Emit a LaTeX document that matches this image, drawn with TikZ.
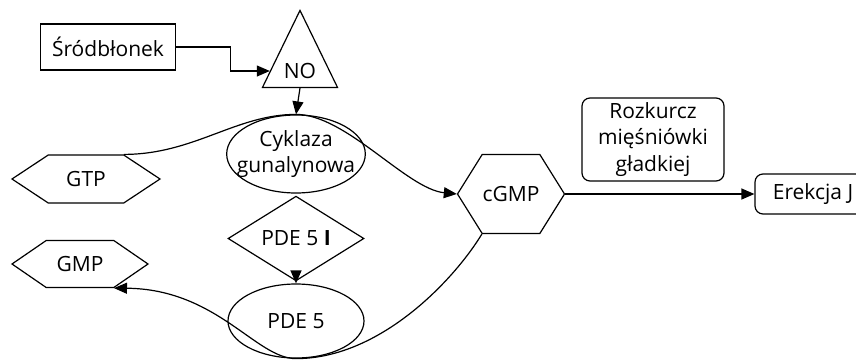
\documentclass[tikz,border=0pt]{standalone}
\usepackage{fontspec}
\setmainfont{Open Sans}
\usetikzlibrary{shapes.geometric,shapes.symbols,arrows.meta}
\begin{document}
\begin{tikzpicture}[x=1pt,y=-1pt,line width=1.2pt,
    every node/.style={font=\fontsize{21}{26.5}\selectfont,inner sep=0pt,align=center},
    box/.style={draw,rectangle},
    roundbox/.style={draw,rectangle,rounded corners=8pt},
    tri/.style={draw,isosceles triangle,shape border rotate=90,isosceles triangle stretches},
    hexa/.style={draw,signal,signal to=east and west},
    oval/.style={draw,ellipse},
    rhomb/.style={draw,diamond},
    tip/.style={-{Triangle[length=13pt,width=11pt]}}]
  \useasboundingbox (0,0) rectangle (856,359);
  \clip (0,0) rectangle (856,359);
  \node[box,minimum width=135pt,minimum height=46pt] (srod) at (108,47) {Śródbłonek};
  \node[tri,minimum width=75pt,minimum height=77pt] (no) at (300,71) {NO};
  \node[oval,inner xsep=-10pt,minimum width=136pt,minimum height=78pt] (cyk) at (296,154) {Cyklaza\\gunalynowa};
  \node[hexa,signal pointer angle=67,minimum width=148pt,minimum height=48pt] (gtp) at (86,179) {GTP};
  \node[hexa,signal pointer angle=116,minimum width=107pt,minimum height=79pt] (cgmp) at (511,194) {cGMP};
  \node[roundbox,minimum width=142pt,minimum height=83pt] (rozk) at (653,139.5) {Rozkurcz\\mięśniówki\\gładkiej};
  \node[roundbox,minimum width=116pt,minimum height=40pt] (erek) at (813,194) {Erekcja J};
  \node[rhomb,minimum width=136pt,minimum height=53pt] (pdei) at (296,238.5) {PDE 5 \textbf{I}};
  \node[oval,minimum width=136pt,minimum height=74pt] (pde) at (296,321) {PDE 5};
  \node[hexa,signal pointer angle=69,minimum width=136pt,minimum height=47pt] (gmp) at (80,264) {GMP};
  \begin{scope}[tip]
    \draw (srod.east) -- ++(54,0) |- (no.west);
    \draw (no.south) -- (cyk.north);
    \draw (gtp.north east) .. controls +(70,0) and +(-60,0) .. (cyk.north)
      .. controls +(50,0) and +(-50,-5) .. (cgmp.west);
    \draw (cgmp.east) -- (erek.west);
    \draw (pdei.south) -- (pde.north);
    \draw (cgmp.south west) .. controls +(-28,46) and +(84,0) .. (pde.south)
      .. controls +(-40,0) and +(103,1) .. (gmp.south east);
  \end{scope}
\end{tikzpicture}
\end{document}
